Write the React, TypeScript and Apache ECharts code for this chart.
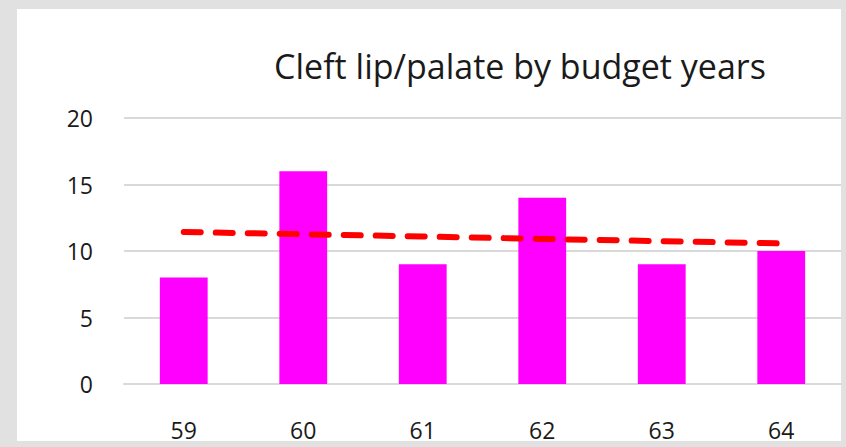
import React, { useEffect, useRef } from "react";
import * as echarts from "echarts";

const years = ["59", "60", "61", "62", "63", "64"];
const cases = [8, 16, 9, 14, 9, 10];
const trend = [11.43, 11.26, 11.09, 10.91, 10.74, 10.57];
const yTicks = [0, 5, 10, 15, 20];

const FONT = "'Open Sans', 'Noto Sans', sans-serif";

export default function App() {
  const ref = useRef<HTMLDivElement>(null);
  useEffect(() => {
    const chart = echarts.init(ref.current!, null, { renderer: "svg" });
    chart.setOption({
      animation: false,
      backgroundColor: "#e1e1e1",
      graphic: [
        {
          type: "rect",
          z: -10,
          shape: { x: 17, y: 9, width: 824, height: 432 },
          style: { fill: "#ffffff" },
        },
      ],
      title: {
        text: "Cleft lip/palate by budget years",
        left: 515,
        textAlign: "center",
        top: 44,
        textStyle: { fontFamily: FONT, fontSize: 34, fontWeight: "normal", color: "#1a1a1a" },
      },
      grid: { left: 124, right: 5, top: 118, bottom: 63, containLabel: false },
      xAxis: {
        type: "category",
        data: years,
        axisLine: { show: true, lineStyle: { color: "#d9d9d9", width: 2 } },
        axisTick: { show: false },
        axisLabel: { margin: 34, fontFamily: FONT, fontSize: 23, color: "#1a1a1a" },
      },
      yAxis: {
        type: "value",
        min: yTicks[0],
        max: yTicks[yTicks.length - 1],
        interval: 5,
        axisLine: { show: false },
        axisTick: { show: false },
        splitLine: { lineStyle: { color: "#d9d9d9", width: 2 } },
        axisLabel: { margin: 31, fontFamily: FONT, fontSize: 23, color: "#1a1a1a" },
      },
      series: [
        {
          type: "bar",
          data: cases,
          barWidth: "40%",
          itemStyle: { color: "#ff00ff" },
        },
        {
          type: "line",
          data: trend,
          symbol: "none",
          lineStyle: { color: "#ff0000", width: 6, type: [17, 15], cap: "round" },
          z: 5,
        },
      ],
    });
    return () => chart.dispose();
  }, []);
  return (
    <div
      ref={ref}
      style={{ position: "absolute", left: 0, top: 0, width: 846, height: 447 }}
    />
  );
}
